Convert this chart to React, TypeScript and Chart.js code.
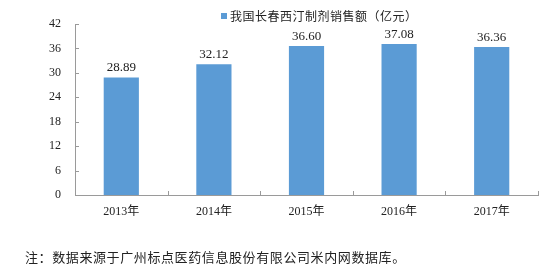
import React, { useEffect, useRef } from "react";
import { Chart, registerables } from "chart.js";

Chart.register(...registerables);

const categories = ["2013年", "2014年", "2015年", "2016年", "2017年"];
const salesValues = [28.89, 32.12, 36.6, 37.08, 36.36];
const seriesName = "我国长春西汀制剂销售额（亿元）";
const yTicks = [0, 6, 12, 18, 24, 30, 36, 42];
const footnote = "注：数据来源于广州标点医药信息股份有限公司米内网数据库。";

const BAR_COLOR = "#5B9BD5";
const AXIS_COLOR = "#9a9a9a";
const SERIF = "'Liberation Serif', 'Noto Sans CJK SC', serif";
const CJK = "'Noto Sans CJK SC', 'Liberation Serif', sans-serif";

const innerTicks = {
  id: "innerTicks",
  afterDraw(chart: any) {
    const ctx = chart.ctx;
    const x = chart.scales.x;
    const y = chart.scales.y;
    const area = chart.chartArea;
    ctx.save();
    ctx.strokeStyle = AXIS_COLOR;
    ctx.lineWidth = 1;
    ctx.beginPath();
    yTicks.forEach((v) => {
      const py = Math.round(y.getPixelForValue(v)) + 0.5;
      ctx.moveTo(area.left, py);
      ctx.lineTo(area.left + 4, py);
    });
    for (let i = 1; i <= categories.length; i++) {
      const px = Math.round(x.getPixelForValue(i - 0.5)) + 0.5;
      ctx.moveTo(px, area.bottom);
      ctx.lineTo(px, area.bottom - 4);
    }
    ctx.stroke();
    ctx.restore();
  },
};

const dataLabels = {
  id: "dataLabels",
  afterDatasetsDraw(chart: any) {
    const ctx = chart.ctx;
    const meta = chart.getDatasetMeta(0);
    ctx.save();
    ctx.font = `13px ${SERIF}`;
    ctx.fillStyle = "#222";
    ctx.textAlign = "center";
    ctx.textBaseline = "bottom";
    meta.data.forEach((bar: any, i: number) => {
      ctx.fillText(salesValues[i].toFixed(2), bar.x, bar.y - 3);
    });
    ctx.restore();
  },
};

const customLegend = {
  id: "customLegend",
  afterDraw(chart: any) {
    const ctx = chart.ctx;
    ctx.save();
    ctx.fillStyle = BAR_COLOR;
    ctx.fillRect(221, 13, 6, 6);
    ctx.font = `12px ${CJK}`;
    try {
      (ctx as any).letterSpacing = "0.5px";
    } catch (e) {}
    ctx.fillStyle = "#222";
    ctx.textAlign = "left";
    ctx.textBaseline = "middle";
    ctx.fillText(seriesName, 230, 16);
    ctx.restore();
  },
};

export default function App() {
  const canvasRef = useRef<HTMLCanvasElement | null>(null);

  useEffect(() => {
    if (!canvasRef.current) return;
    const chart = new Chart(canvasRef.current, {
      type: "bar",
      data: {
        labels: categories,
        datasets: [
          {
            label: seriesName,
            data: salesValues,
            backgroundColor: BAR_COLOR,
            borderWidth: 0,
            categoryPercentage: 1,
            barPercentage: 0.38,
          },
        ],
      },
      options: {
        animation: false,
        responsive: true,
        maintainAspectRatio: false,
        layout: { padding: { top: 24, right: 12, bottom: 0, left: 0 } },
        plugins: {
          legend: { display: false },
          tooltip: { enabled: false },
        },
        scales: {
          x: {
            grid: { display: false, drawTicks: false },
            border: { display: true, color: AXIS_COLOR },
            ticks: {
              padding: 10,
              color: "#222",
              font: { family: SERIF, size: 12 },
            },
            afterFit: (s: any) => {
              s.height = 70;
            },
          },
          y: {
            min: 0,
            max: 42,
            grid: { display: false, drawTicks: false },
            border: { display: true, color: AXIS_COLOR },
            afterBuildTicks: (s: any) => {
              s.ticks = yTicks.map((v) => ({ value: v }));
            },
            ticks: {
              padding: 14,
              color: "#222",
              font: { family: SERIF, size: 12 },
            },
            afterFit: (s: any) => {
              s.width = 75;
            },
          },
        },
      },
      plugins: [innerTicks, dataLabels, customLegend],
    });
    return () => chart.destroy();
  }, []);

  return (
    <div style={{ position: "absolute", left: 0, top: 0, width: 550, height: 265, background: "#fff" }}>
      <canvas ref={canvasRef} />
      <div
        style={{
          position: "absolute",
          left: 25,
          top: 249,
          fontFamily: CJK,
          fontSize: 13,
          letterSpacing: "0.6px",
          lineHeight: "16px",
          color: "#222",
          whiteSpace: "nowrap",
        }}
      >
        {footnote}
      </div>
    </div>
  );
}
